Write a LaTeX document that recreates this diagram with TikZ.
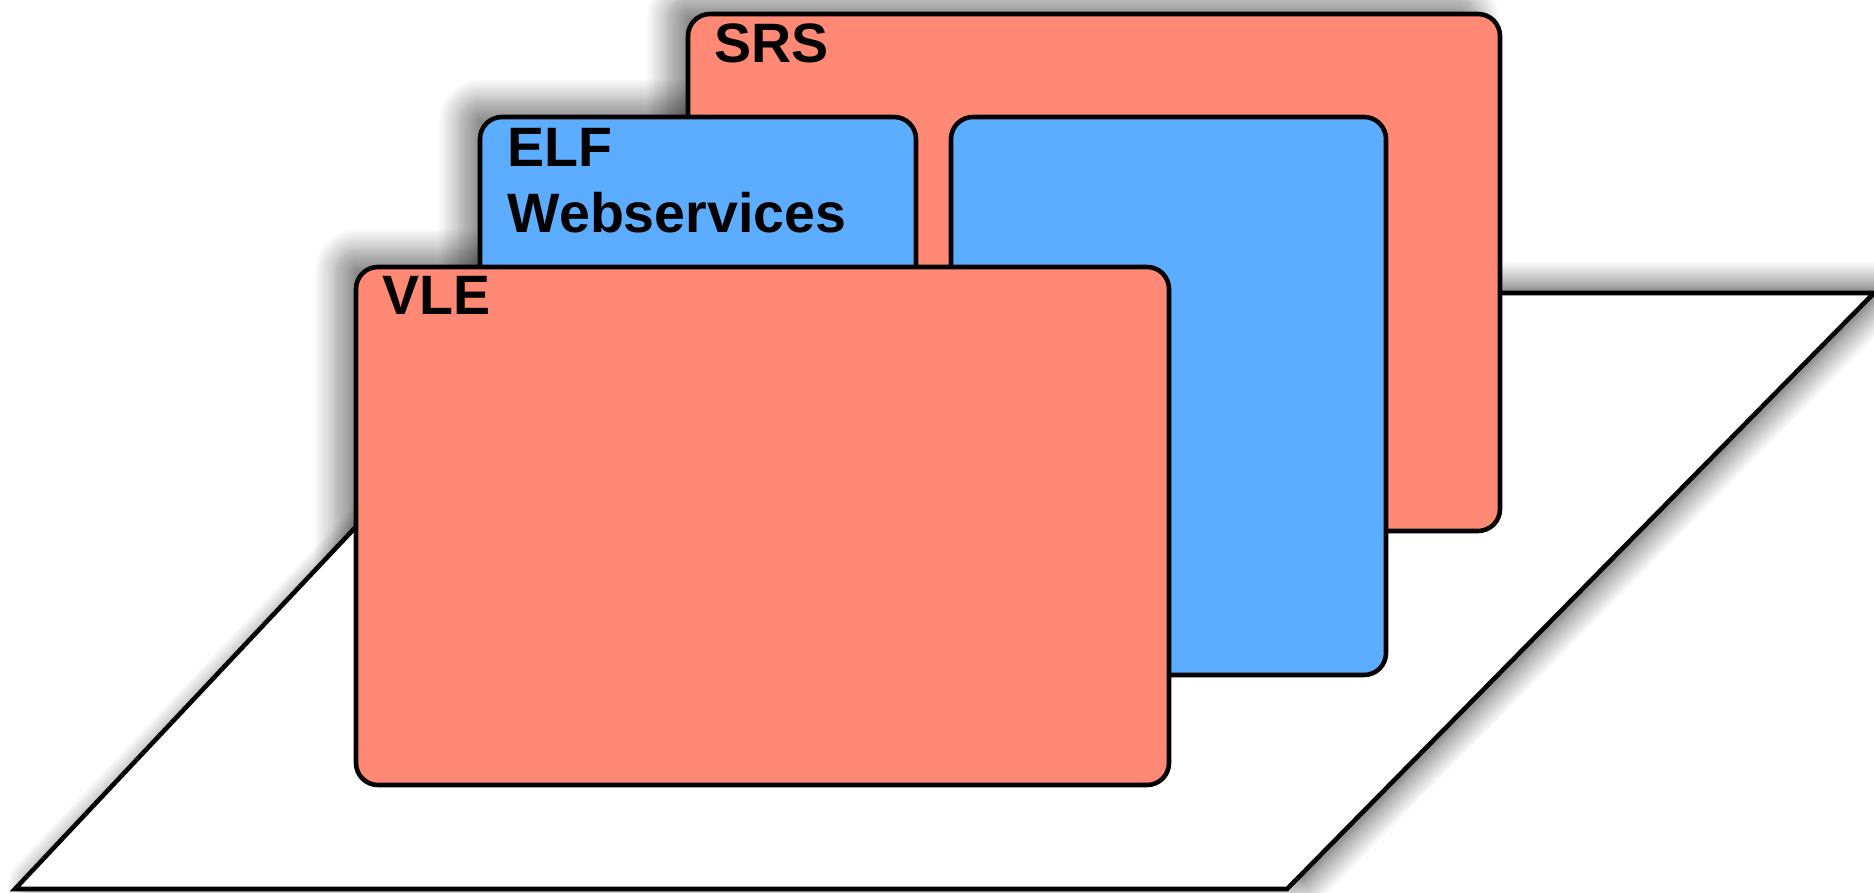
\documentclass[tikz,border=0pt]{standalone}
\usepackage{fontspec}
\setmainfont{Liberation Sans}
\usetikzlibrary{shadows.blur}

\definecolor{salmon}{RGB}{255,137,117}
\definecolor{skyblue}{RGB}{92,172,255}

\begin{document}
\begin{tikzpicture}[
    layer/.style={draw=black, line width=1.3pt, rounded corners=0.22cm},
    layershade/.style={rounded corners=0.22cm,
      blur shadow={shadow xshift=-6pt, shadow yshift=5pt, shadow blur radius=6pt,
        shadow blur steps=14, shadow opacity=45}},
    ground/.style={draw=black, fill=white, line width=1.3pt},
    groundshade/.style={
      blur shadow={shadow xshift=5pt, shadow yshift=2pt, shadow blur radius=7pt,
        shadow blur steps=14, shadow opacity=70}},
    lbl/.style={anchor=base west, inner sep=0pt, align=left,
      font=\fontsize{15.8}{18.8}\selectfont\bfseries}]
  \useasboundingbox (0cm,0cm) rectangle (18.74cm,8.92cm);
  % corners
  \coordinate (g1) at (0.15cm,0.03cm);
  \coordinate (g2) at (12.87cm,0.03cm);
  \coordinate (g3) at (18.74cm,5.99cm);
  \coordinate (g4) at (5.76cm,5.99cm);
  \coordinate (srs-sw) at (6.88cm,3.61cm);
  \coordinate (srs-ne) at (15cm,8.78cm);
  \coordinate (elf-sw) at (4.8cm,5cm);
  \coordinate (elf-ne) at (9.16cm,7.75cm);
  \coordinate (web-sw) at (9.51cm,2.17cm);
  \coordinate (web-ne) at (13.86cm,7.75cm);
  \coordinate (vle-sw) at (3.56cm,1.07cm);
  \coordinate (vle-ne) at (11.69cm,6.25cm);
  % shadows
  \path[groundshade] (g1) -- (g2) -- (g3) -- (g4) -- cycle;
  \path[layershade] (srs-sw) rectangle (srs-ne);
  \path[layershade] (elf-sw) rectangle (elf-ne);
  \path[layershade] (web-sw) rectangle (web-ne);
  \path[layershade] (vle-sw) rectangle (vle-ne);
  % shapes
  \filldraw[ground] (g1) -- (g2) -- (g3) -- (g4) -- cycle;
  \filldraw[layer, fill=salmon] (srs-sw) rectangle (srs-ne);
  \node[lbl] (srs) at (7.14cm,8.29cm) {SRS};
  \filldraw[layer, fill=skyblue] (elf-sw) rectangle (elf-ne);
  \node[lbl] (elf) at (5.07cm,6.59cm) {ELF\\Webservices};
  \filldraw[layer, fill=skyblue] (web-sw) rectangle (web-ne);
  \filldraw[layer, fill=salmon] (vle-sw) rectangle (vle-ne);
  \node[lbl] (vle) at (3.82cm,5.77cm) {VLE};
\end{tikzpicture}
\end{document}
